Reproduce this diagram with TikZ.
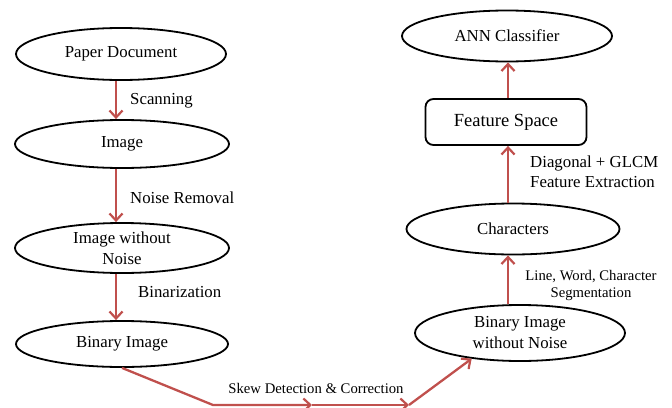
\documentclass[tikz,border=0pt]{standalone}
\usepackage{fontspec}
\setmainfont{Liberation Serif}
\usetikzlibrary{shapes.geometric,arrows.meta}
\definecolor{flowred}{HTML}{C0504D}
\begin{document}
\begin{tikzpicture}[x=1pt,y=-1pt,
  stage/.style={ellipse,draw,line width=1.8pt,inner sep=0pt,align=center,
    font=\fontsize{16.8}{21}\selectfont},
  featbox/.style={rectangle,rounded corners=8pt,draw,line width=1.8pt,inner sep=0pt,
    font=\fontsize{18.5}{21}\selectfont},
  flow/.style={draw=flowred,line width=2.3pt,line join=round,
    -{Straight Barb[length=7pt,width=13pt,line width=2.2pt]}},
  lbl/.style={font=\fontsize{16.8}{20}\selectfont,anchor=west,inner sep=0pt,align=left},
  slbl/.style={font=\fontsize{14.7}{17}\selectfont,inner sep=0pt,align=center}]
\useasboundingbox (0,0) rectangle (672,407);

% left column: acquisition and preprocessing
\node[stage,minimum width=210pt,minimum height=52pt] (pd)  at (121,54)  {Paper Document};
\node[stage,minimum width=214pt,minimum height=48pt] (img) at (122,144) {Image};
\node[stage,minimum width=214pt,minimum height=50pt] (iwn) at (122,248) {Image without\\Noise};
\node[stage,minimum width=212pt,minimum height=46pt] (bi)  at (122,344) {Binary Image};

% right column: segmentation, features, classification
\node[stage,minimum width=210pt,minimum height=51pt] (ann)  at (507,36)  {ANN Classifier};
\node[featbox,minimum width=161pt,minimum height=46pt] (fs) at (506,122) {Feature Space};
\node[stage,minimum width=213pt,minimum height=51pt] (ch)   at (513,229) {Characters};
\node[stage,minimum width=210pt,minimum height=56pt] (biwn) at (520,333) {Binary Image\\without Noise};

% arrow columns
\coordinate (lx) at (116,0);
\coordinate (rx) at (508,0);

\draw[flow] (pd.south -| lx)  -- (img.north -| lx);
\draw[flow] (img.south -| lx) -- (iwn.north -| lx);
\draw[flow] (iwn.south -| lx) -- (bi.north -| lx);

\draw[flow] (biwn.north -| rx) -- (ch.south -| rx);
\draw[flow] (ch.north -| rx)   -- (fs.south -| rx);
\draw[flow] (fs.north -| rx)   -- (ann.south -| rx);

% skew correction path along the bottom
\coordinate (c1) at (213,405);
\coordinate (m)  at (312,405);
\coordinate (c2) at (409,405);
\draw[flow] (bi.south) -- (c1) -- (m);
\draw[flow] (m) -- (c2);
\draw[flow] (c2) -- (biwn.208);

% step labels
\node[lbl] (l1) at (130,101) {Scanning};
\node[lbl] (l2) at (130,198) {Noise Removal};
\node[lbl] (l3) at (138,292) {Binarization};
\node[slbl] (l4) at (316,388) {Skew Detection \& Correction};
\node[slbl] (l5) at (591,285) {Line, Word, Character\\Segmentation};
\node[lbl] (l6) at (530,172) {Diagonal + GLCM\\Feature Extraction};
\end{tikzpicture}
\end{document}
